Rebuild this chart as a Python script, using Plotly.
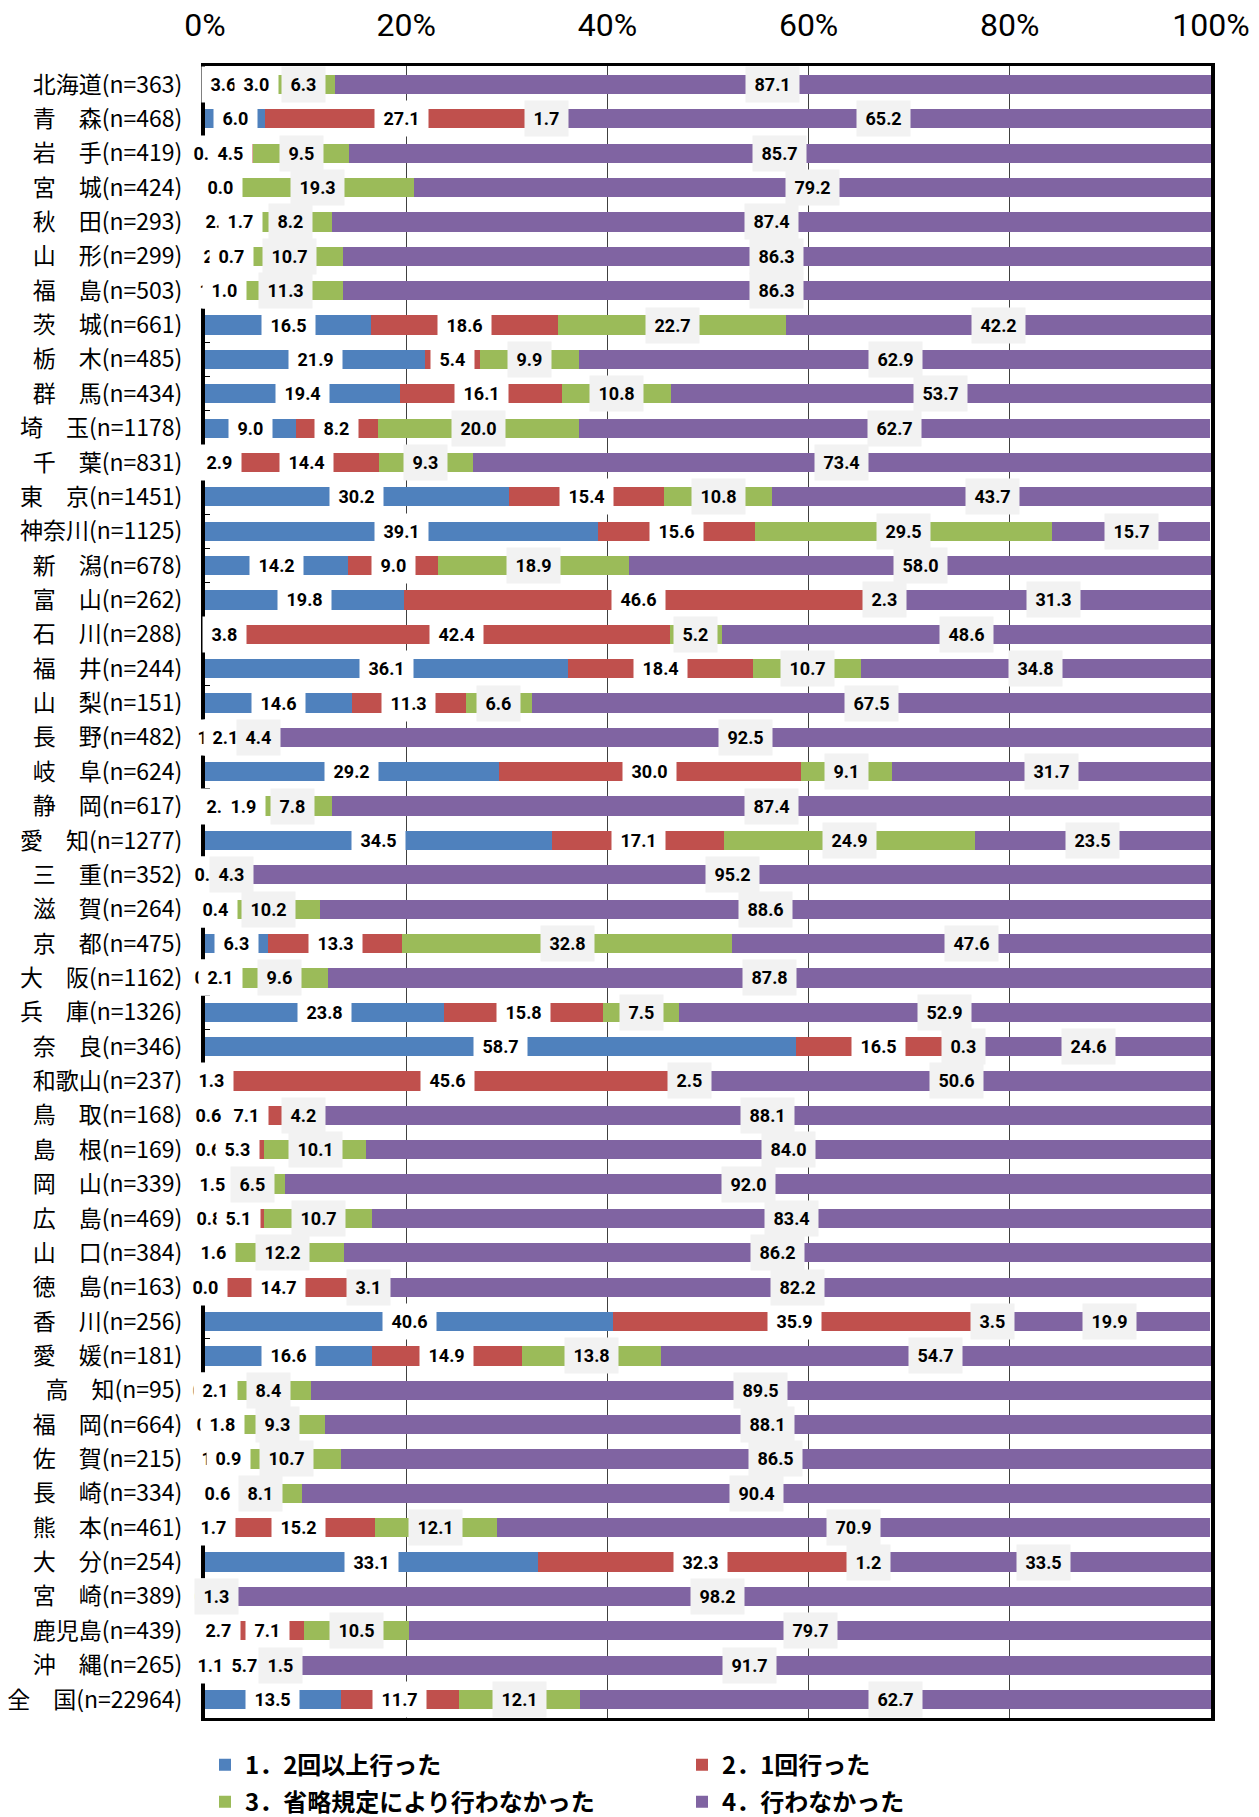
import plotly.graph_objects as go

prefs = ["北海道", "青　森", "岩　手", "宮　城", "秋　田", "山　形", "福　島", "茨　城",
         "栃　木", "群　馬", "埼　玉", "千　葉", "東　京", "神奈川", "新　潟", "富　山",
         "石　川", "福　井", "山　梨", "長　野", "岐　阜", "静　岡", "愛　知", "三　重",
         "滋　賀", "京　都", "大　阪", "兵　庫", "奈　良", "和歌山", "鳥　取", "島　根",
         "岡　山", "広　島", "山　口", "徳　島", "香　川", "愛　媛", "高　知", "福　岡",
         "佐　賀", "長　崎", "熊　本", "大　分", "宮　崎", "鹿児島", "沖　縄", "全　国"]
n_values = [363, 468, 419, 424, 293, 299, 503, 661, 485, 434, 1178, 831, 1451, 1125, 678, 262,
            288, 244, 151, 482, 624, 617, 1277, 352, 264, 475, 1162, 1326, 346, 237, 168, 169,
            339, 469, 384, 163, 256, 181, 95, 664, 215, 334, 461, 254, 389, 439, 265, 22964]

# 1. 2回以上行った
s1 = [3.6, 6.0, 0.3, 1.5, 2.7, 2.3, 1.4, 16.5, 21.9, 19.4, 9.0, 2.9, 30.2, 39.1, 14.2, 19.8,
      3.8, 36.1, 14.6, 1.0, 29.2, 2.9, 34.5, 0.0, 0.8, 6.3, 0.5, 23.8, 58.7, 1.3, 0.6, 0.6,
      0.0, 0.8, 0.0, 0.0, 40.6, 16.6, 0.0, 0.8, 1.9, 0.9, 1.7, 33.1, 0.0, 2.7, 1.1, 13.5]
# 2. 1回行った
s2 = [3.0, 27.1, 4.5, 0.0, 1.7, 0.7, 1.0, 18.6, 5.4, 16.1, 8.2, 14.4, 15.4, 15.6, 9.0, 46.6,
      42.4, 18.4, 11.3, 2.1, 30.0, 1.9, 17.1, 0.5, 0.4, 13.3, 2.1, 15.8, 16.5, 45.6, 7.1, 5.3,
      1.5, 5.1, 1.6, 14.7, 35.9, 14.9, 2.1, 1.8, 0.9, 0.6, 15.2, 32.3, 0.5, 7.1, 5.7, 11.7]
# 3. 省略規定により行わなかった
s3 = [6.3, 1.7, 9.5, 19.3, 8.2, 10.7, 11.3, 22.7, 9.9, 10.8, 20.0, 9.3, 10.8, 29.5, 18.9, 2.3,
      5.2, 10.7, 6.6, 4.4, 9.1, 7.8, 24.9, 4.3, 10.2, 32.8, 9.6, 7.5, 0.3, 2.5, 4.2, 10.1,
      6.5, 10.7, 12.2, 3.1, 3.5, 13.8, 8.4, 9.3, 10.7, 8.1, 12.1, 1.2, 1.3, 10.5, 1.5, 12.1]
# 4. 行わなかった
s4 = [87.1, 65.2, 85.7, 79.2, 87.4, 86.3, 86.3, 42.2, 62.9, 53.7, 62.7, 73.4, 43.7, 15.7, 58.0, 31.3,
      48.6, 34.8, 67.5, 92.5, 31.7, 87.4, 23.5, 95.2, 88.6, 47.6, 87.8, 52.9, 24.6, 50.6, 88.1, 84.0,
      92.0, 83.4, 86.2, 82.2, 19.9, 54.7, 89.5, 88.1, 86.5, 90.4, 70.9, 33.5, 98.2, 79.7, 91.7, 62.7]

series_names = ["1．2回以上行った", "2．1回行った", "3．省略規定により行わなかった", "4．行わなかった"]
colors = ["#4F81BD", "#C0504D", "#9BBB59", "#8064A2"]
label_bg = ["#FFFFFF", "#FFFFFF", "#F2F2F2", "#F2F2F2"]
legend_ids = ["legend", "legend", "legend2", "legend2"]
x_ticks = [0, 20, 40, 60, 80, 100]

cats = [f"{p}(n={n})" for p, n in zip(prefs, n_values)]
series = [s1, s2, s3, s4]

fig = go.Figure()
for vals, name, col, lg in zip(series, series_names, colors, legend_ids):
    fig.add_trace(go.Bar(
        x=vals, y=cats, orientation="h", name=name, legend=lg,
        marker=dict(color=col, line=dict(width=0)),
        hoverinfo="skip",
    ))

# data labels (centered on each segment), later series drawn on top
annotations = []
cum = [0.0] * len(cats)
starts = []
for vals in series:
    starts.append(cum[:])
    cum = [c + v for c, v in zip(cum, vals)]
NB = "\u00a0"
for si, vals in enumerate(series):
    for i, v in enumerate(vals):
        annotations.append(dict(
            x=starts[si][i] + v / 2, y=cats[i], xref="x", yref="y",
            text=f"{NB}{v:.1f}{NB}", showarrow=False,
            bgcolor=label_bg[si], borderpad=4, height=27,
            font=dict(family="Roboto", size=18, color="black", weight="bold"),
        ))

legend_common = dict(
    orientation="h", xanchor="left", yanchor="middle",
    entrywidth=432, entrywidthmode="pixels",
    font=dict(family="Noto Sans CJK JP", size=24, color="black", weight="bold"),
    bgcolor="rgba(0,0,0,0)", traceorder="normal",
)

fig.update_layout(
    width=1251, height=1809,
    barmode="stack", bargap=0.44,
    plot_bgcolor="white", paper_bgcolor="white",
    margin=dict(l=197, r=48, t=58, b=99, autoexpand=False),
    xaxis=dict(
        side="top", range=[0, 100], tickvals=x_ticks,
        ticktext=[f"{v}%" for v in x_ticks],
        showgrid=True, gridcolor="#404040", gridwidth=1,
        showline=True, linecolor="black", linewidth=3, mirror=True,
        ticks="", zeroline=False, ticklabelstandoff=14,
        tickfont=dict(family="Roboto", size=32, color="black"),
    ),
    yaxis=dict(
        autorange="reversed", showgrid=False,
        showline=True, linecolor="black", linewidth=4, mirror=True,
        ticks="inside", tickson="boundaries", ticklen=5, tickcolor="black",
        ticklabelstandoff=14,
        tickfont=dict(family="Noto Sans CJK JP", size=23, color="black"),
    ),
    legend=dict(legend_common, x=0.0, y=-0.0285),
    legend2=dict(legend_common, x=0.0, y=-0.051),
    annotations=annotations,
)

fig.write_html("out.html")
